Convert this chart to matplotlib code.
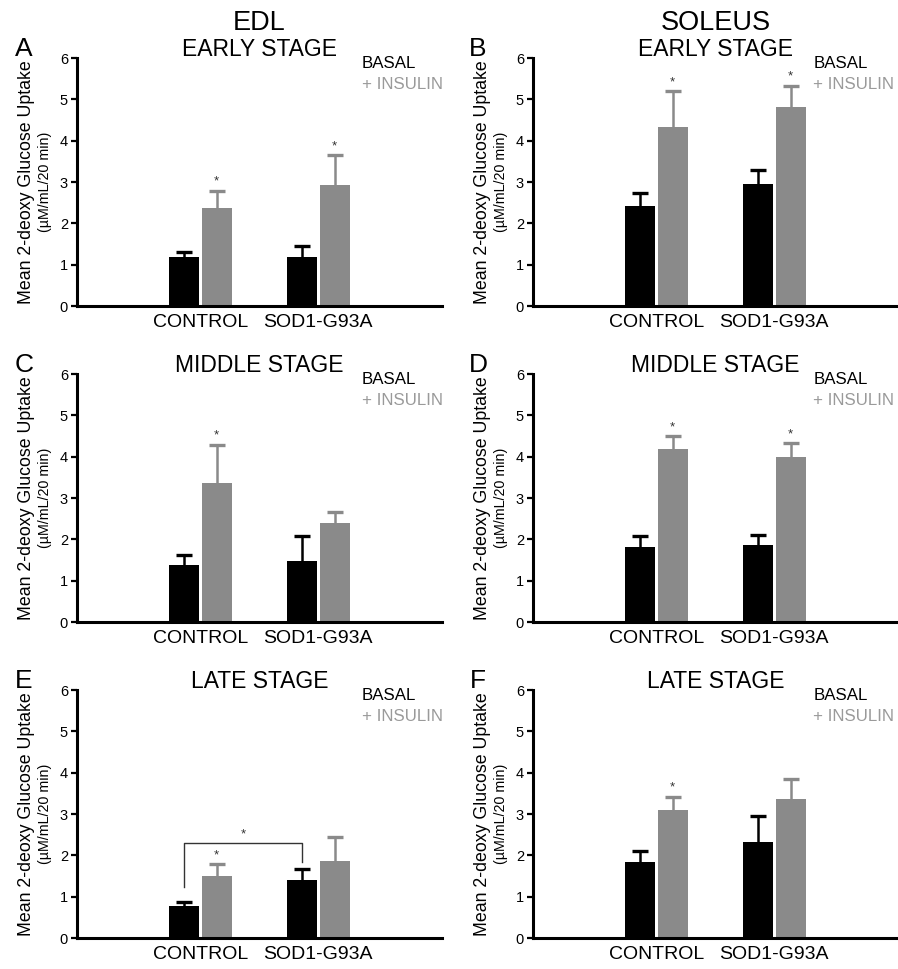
import numpy as np
import matplotlib
matplotlib.use('Agg')
import matplotlib.pyplot as plt

plt.rcParams['font.family'] = ['Liberation Sans', 'DejaVu Sans']

# data (mean, SEM), order: CONTROL, SOD1-G93A
groups = ['CONTROL', 'SOD1-G93A']
panel_ids = ['A', 'B', 'C', 'D', 'E', 'F']
stages = ['EARLY STAGE', 'EARLY STAGE', 'MIDDLE STAGE', 'MIDDLE STAGE', 'LATE STAGE', 'LATE STAGE']

basal_mean = {'A': [1.18, 1.19], 'B': [2.41, 2.96], 'C': [1.39, 1.48],
              'D': [1.81, 1.86], 'E': [0.77, 1.41], 'F': [1.85, 2.32]}
basal_sem = {'A': [0.12, 0.26], 'B': [0.32, 0.34], 'C': [0.22, 0.60],
             'D': [0.27, 0.24], 'E': [0.10, 0.27], 'F': [0.25, 0.63]}
ins_mean = {'A': [2.37, 2.93], 'B': [4.32, 4.81], 'C': [3.37, 2.40],
            'D': [4.19, 4.00], 'E': [1.49, 1.87], 'F': [3.09, 3.36]}
ins_sem = {'A': [0.42, 0.72], 'B': [0.87, 0.52], 'C': [0.92, 0.26],
           'D': [0.30, 0.33], 'E': [0.30, 0.58], 'F': [0.33, 0.48]}
ins_star = {'A': [True, True], 'B': [True, True], 'C': [True, False],
            'D': [True, True], 'E': [True, False], 'F': [True, False]}

BLACK = '#000000'
GRAY = '#8a8a8a'
TXTGRAY = '#9a9a9a'

W, H = 898, 969
fig = plt.figure(figsize=(W / 100, H / 100), dpi=100)

col_left = [77, 533]
row_top = [58, 374, 690]
ax_w, ax_h = 365, 248
legend_x = [0.78, 0.768]

centers = np.array([0.338, 0.661])
bw = 0.082
off = 0.045


def draw_bars(ax, x, mean, sem, color):
    ax.bar(x, mean, width=bw, color=color, zorder=2)
    eb = ax.errorbar(x, mean, yerr=[np.zeros(len(mean)), sem], fmt='none',
                     ecolor=color, elinewidth=1.8, capsize=6, capthick=2.4, zorder=3)
    eb[1][0].set_visible(False)


for i, pid in enumerate(panel_ids):
    r, c = divmod(i, 2)
    left = col_left[c] / W
    bottom = 1 - (row_top[r] + ax_h) / H
    ax = fig.add_axes([left, bottom, ax_w / W, ax_h / H])

    xb = centers - off
    xi = centers + off
    draw_bars(ax, xb, basal_mean[pid], basal_sem[pid], BLACK)
    draw_bars(ax, xi, ins_mean[pid], ins_sem[pid], GRAY)

    for k in range(2):
        if ins_star[pid][k]:
            top = ins_mean[pid][k] + ins_sem[pid][k]
            ax.annotate('*', (xi[k], top), xytext=(0, 2), textcoords='offset points',
                        ha='center', va='bottom', fontsize=9.5, color='#333333')

    if pid == 'E':
        y_bar = 2.29
        ax.plot([xb[0], xb[0], xb[1], xb[1]], [1.24, y_bar, y_bar, 1.84],
                color='#333333', lw=1.0, zorder=4)
        ax.text((xb[0] + xb[1]) / 2, y_bar + 0.08, '*', ha='center', va='bottom',
                fontsize=9.5, color='#333333')

    ax.set_xlim(0, 1)
    ax.set_ylim(0, 6)
    ax.set_yticks(range(7))
    ax.set_xticks(centers)
    ax.set_xticklabels(groups, fontsize=14)
    ax.tick_params(axis='x', length=0, pad=6)
    ax.tick_params(axis='y', length=4.5, width=1.6, labelsize=10.5, pad=2)
    for s in ['top', 'right']:
        ax.spines[s].set_visible(False)
    for s in ['left', 'bottom']:
        ax.spines[s].set_linewidth(2.2)

    ax.text(-0.137, 0.5, 'Mean 2-deoxy Glucose Uptake', transform=ax.transAxes,
            rotation=90, ha='center', va='center', fontsize=12.8)
    ax.text(-0.088, 0.5, '(\u00b5M/mL/20 min)', transform=ax.transAxes,
            rotation=90, ha='center', va='center', fontsize=10.3)

    ax.text(0.5, 1.035, stages[i], transform=ax.transAxes, ha='center',
            va='center', fontsize=16.5)
    ax.text(legend_x[c], 0.976, 'BASAL', transform=ax.transAxes, ha='left',
            va='center', fontsize=12.2, color=BLACK)
    ax.text(legend_x[c], 0.895, '+ INSULIN', transform=ax.transAxes, ha='left',
            va='center', fontsize=12.2, color=TXTGRAY)

    letter_x = [24, 478][c]
    fig.text(letter_x / W, 1 - (row_top[r] - 9) / H, pid, ha='center',
             va='center', fontsize=19)

fig.text((77 + ax_w / 2) / W, 1 - 23 / H, 'EDL', ha='center', va='center', fontsize=19.5)
fig.text((533 + ax_w / 2) / W, 1 - 23 / H, 'SOLEUS', ha='center', va='center', fontsize=19.5)

fig.savefig('out.png', dpi=100)
